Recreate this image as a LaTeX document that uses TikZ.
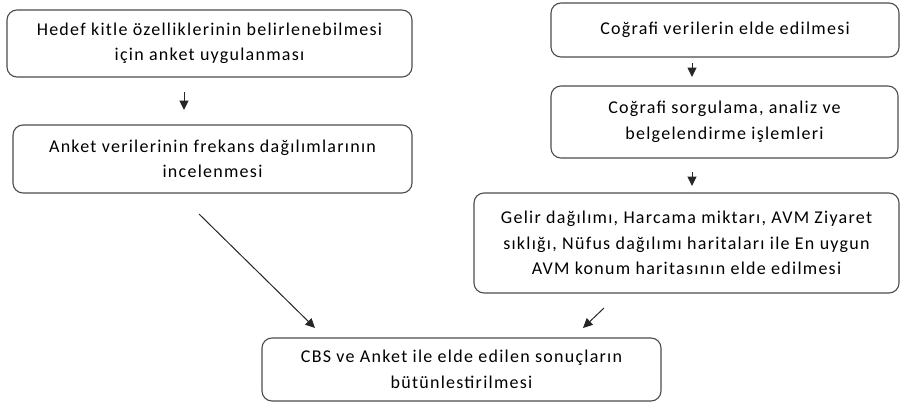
\documentclass[tikz,border=0pt]{standalone}
\usepackage{fontspec}
\setmainfont{Carlito}[LetterSpace=7]
\usetikzlibrary{arrows.meta}
\begin{document}
\begin{tikzpicture}[x=1pt,y=-1pt,
  box/.style={draw=black!70,line width=1.1pt,rounded corners=10pt,align=center,
    inner sep=0pt,font=\fontsize{18}{25.5}\selectfont},
  arr/.style={line width=1pt,draw=black!85,-{Triangle[length=9.5pt,width=9pt]}}]
\useasboundingbox (0,0) rectangle (901,404);
\node[box,minimum width=405pt,minimum height=67pt] (b1) at (209.5,43.5)
  {Hedef kitle özelliklerinin belirlenebilmesi\\için anket uygulanması};
\node[box,minimum width=399pt,minimum height=68pt] (b2) at (212.5,159)
  {Anket verilerinin frekans dağılımlarının\\incelenmesi};
\node[box,minimum width=348pt,minimum height=54pt] (b3) at (725,30)
  {Coğrafi verilerin elde edilmesi};
\node[box,minimum width=347pt,minimum height=72pt] (b4) at (724.5,122)
  {Coğrafi sorgulama, analiz ve\\belgelendirme işlemleri};
\node[box,minimum width=425pt,minimum height=100pt] (b5) at (686.5,243)
  {Gelir dağılımı, Harcama miktarı, AVM Ziyaret\\sıklığı, Nüfus dağılımı haritaları ile En uygun\\AVM konum haritasının elde edilmesi};
\node[box,minimum width=399pt,minimum height=63pt] (b6) at (461.5,369.5)
  {CBS ve Anket ile elde edilen sonuçların\\bütünlestirilmesi};
\coordinate (a1s) at (184,92);  \coordinate (a1e) at (184,110);
\coordinate (a2s) at (692,63);  \coordinate (a2e) at (692,77);
\coordinate (a3s) at (692,172); \coordinate (a3e) at (692,186);
\coordinate (a4s) at (199,214); \coordinate (a4e) at (315,328);
\coordinate (a5s) at (604,308); \coordinate (a5e) at (583,328);
\draw[arr] (a1s) -- (a1e);
\draw[arr] (a2s) -- (a2e);
\draw[arr] (a3s) -- (a3e);
\draw[arr] (a4s) -- (a4e);
\draw[arr] (a5s) -- (a5e);
\end{tikzpicture}
\end{document}
